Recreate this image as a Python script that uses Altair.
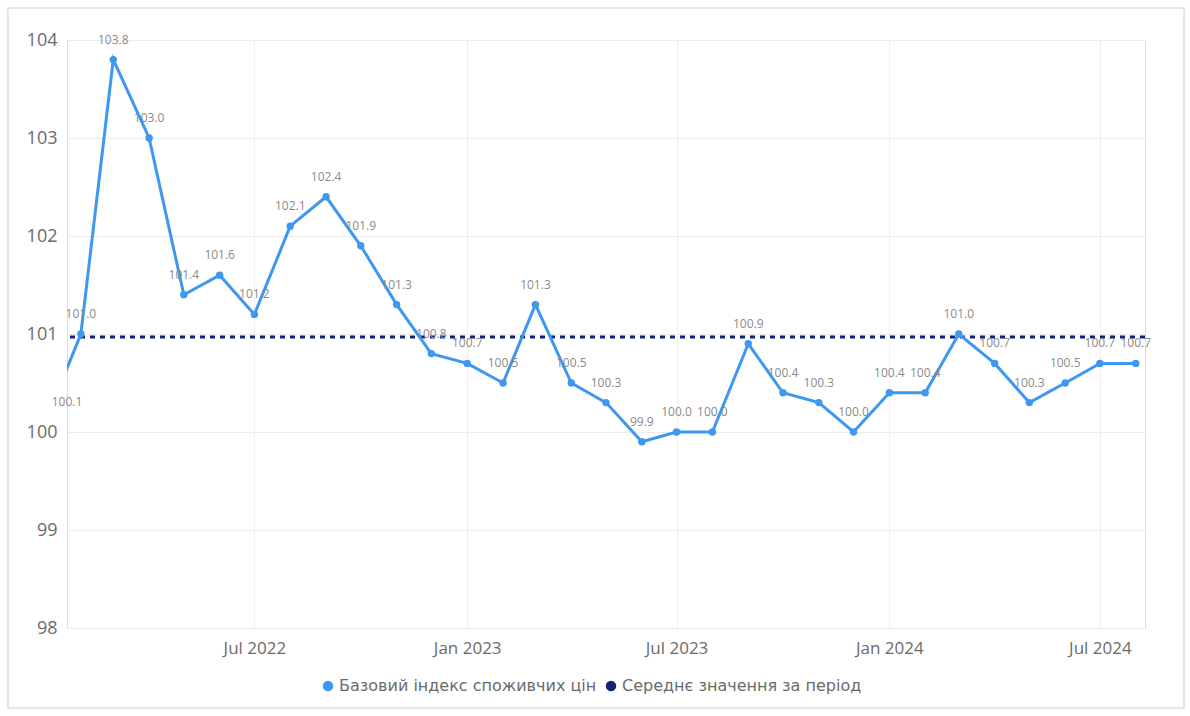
import altair as alt
import pandas as pd

months = [
    "2022-01", "2022-02", "2022-03", "2022-04", "2022-05", "2022-06",
    "2022-07", "2022-08", "2022-09", "2022-10", "2022-11", "2022-12",
    "2023-01", "2023-02", "2023-03", "2023-04", "2023-05", "2023-06",
    "2023-07", "2023-08", "2023-09", "2023-10", "2023-11", "2023-12",
    "2024-01", "2024-02", "2024-03", "2024-04", "2024-05", "2024-06",
    "2024-07", "2024-08",
]
core_cpi = [
    100.1, 101.0, 103.8, 103.0, 101.4, 101.6, 101.2, 102.1, 102.4, 101.9, 101.3, 100.8,
    100.7, 100.5, 101.3, 100.5, 100.3, 99.9, 100.0, 100.0, 100.9, 100.4, 100.3, 100.0,
    100.4, 100.4, 101.0, 100.7, 100.3, 100.5, 100.7, 100.7,
]
period_mean = 100.97
series_names = ["Базовий індекс споживчих цін", "Середнє значення за період"]
series_colors = ["#3e97f0", "#14217a"]
y_ticks = [98, 99, 100, 101, 102, 103, 104]

FONT = "Open Sans"

df = pd.DataFrame({"date": [m + "-01T00:00:00" for m in months], "value": core_cpi})
df["label"] = df["value"].map(lambda v: f"{v:.1f}")
legend_df = pd.DataFrame({"name": series_names})

x_domain = [alt.DateTime(year=2022, month=1, date=20), alt.DateTime(year=2024, month=8, date=9)]
x_ticks = [
    alt.DateTime(year=2022, month=7, date=1),
    alt.DateTime(year=2023, month=1, date=1),
    alt.DateTime(year=2023, month=7, date=1),
    alt.DateTime(year=2024, month=1, date=1),
    alt.DateTime(year=2024, month=7, date=1),
]

x_enc = alt.X(
    "date:T",
    scale=alt.Scale(domain=x_domain),
    axis=alt.Axis(
        values=x_ticks, format="%b %Y", title=None, labelFontSize=17,
        labelColor="#6b6b6b", labelFont=FONT, labelPadding=12, ticks=False,
        domain=False, grid=True, gridColor="#efefef", labelFlush=False,
    ),
)
y_enc = alt.Y(
    "value:Q",
    scale=alt.Scale(domain=[98, 104], nice=False, zero=False),
    axis=alt.Axis(
        values=y_ticks, format="d", title=None, labelFontSize=18, labelColor="#6b6b6b",
        labelFont=FONT, labelPadding=10, ticks=False, domain=False,
        grid=True, gridColor="#ececec",
    ),
)

base = alt.Chart(df)

line = base.mark_line(
    color=series_colors[0], strokeWidth=3, clip=True,
    point=alt.OverlayMarkDef(filled=True, size=55, color=series_colors[0], opacity=1, clip=True),
).encode(x=x_enc, y=y_enc)

labels = base.mark_text(
    fontSize=12, color="#8a8a8a", font=FONT, dy=-20, baseline="middle"
).encode(
    x=alt.X("date:T", scale=alt.Scale(domain=x_domain, clamp=True), axis=None),
    y=alt.Y("value:Q", scale=alt.Scale(domain=[98, 104], nice=False, zero=False)),
    text="label:N",
)

mean_rule = alt.Chart(pd.DataFrame({"m": [period_mean]})).mark_rule(
    color=series_colors[1], strokeWidth=3, strokeDash=[5, 5]
).encode(y=alt.Y("m:Q"))

legend_layer = alt.Chart(legend_df).mark_point(filled=True, opacity=0).encode(
    x=alt.value(0),
    y=alt.value(0),
    color=alt.Color(
        "name:N",
        scale=alt.Scale(domain=series_names, range=series_colors),
        legend=alt.Legend(
            title=None, orient="none", legendX=253, legendY=638, direction="horizontal",
            symbolType="circle", symbolSize=110, symbolOpacity=1, symbolStrokeWidth=0,
            labelFontSize=16, labelColor="#6b6b6b", labelFont="DejaVu Sans", labelLimit=0,
            columnPadding=6, labelOffset=3,
        ),
    ),
)

border = alt.Chart(pd.DataFrame({"a": [0]})).mark_rect(
    filled=False, stroke="#e6e6e6", strokeWidth=2, clip=False
).encode(x=alt.value(-59), x2=alt.value(1117), y=alt.value(-32), y2=alt.value(668))

chart = alt.layer(
    border, mean_rule, line, labels, legend_layer
).resolve_scale(x="independent").properties(
    width=1078, height=588,
    autosize=alt.AutoSizeParams(type="none"),
    padding={"left": 67, "top": 40, "right": 45, "bottom": 88},
).configure_view(stroke=None).configure(background="white")

chart.save("out.html", embed_options={"renderer": "svg", "actions": False})
